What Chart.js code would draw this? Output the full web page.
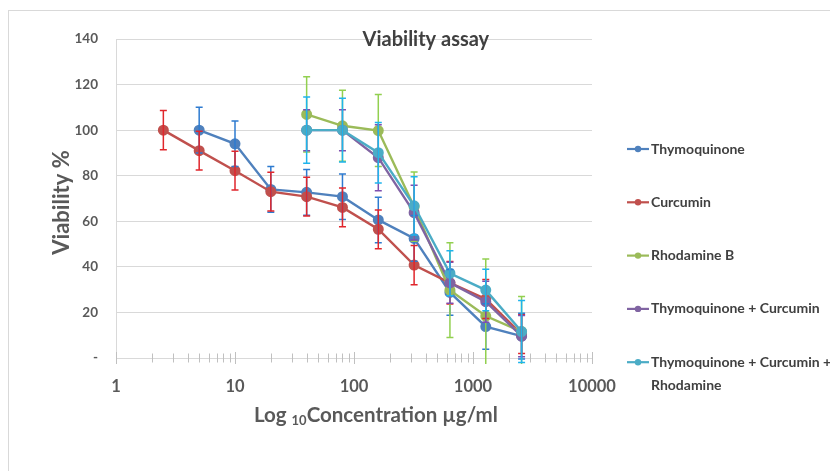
<!DOCTYPE html>
<html>
<head>
<meta charset="utf-8">
<script src="https://cdn.jsdelivr.net/npm/chart.js@4/dist/chart.umd.min.js"></script>
<style>
  html, body { margin: 0; padding: 0; background: #ffffff; }
  #wrap { width: 830px; height: 471px; position: relative; }
</style>
</head>
<body>
<div id="wrap"><canvas id="c" width="830" height="471"></canvas></div>
<script>
// ---------- data ----------
const concentrations = [2.5, 5, 10, 20, 40, 80, 160, 320, 640, 1280, 2560];

const seriesNames = [
  "Thymoquinone",
  "Curcumin",
  "Rhodamine B",
  "Thymoquinone + Curcumin",
  "Thymoquinone + Curcumin + Rhodamine"
];

const thymoquinone      = [null, 100, 94, 74, 72.7, 70.8, 60.6, 52.5, 28.8, 13.8, 9.6];
const thymoquinoneErr   = [null, 10, 10, 10, 10, 10, 10, 10, 10, 10, 10];

const curcumin          = [100, 91, 82.2, 73, 70.8, 66.1, 56.5, 40.8, 33, 25.9, 10.5];
const curcuminErr       = [8.6, 8.5, 8.5, 8.5, 8.5, 8.5, 8.5, 8.6, 9.3, 8.6, 8.5];

const rhodamineB        = [null, null, null, null, 106.9, 101.9, 99.8, 66.4, 29.8, 18.4, 11.6];
const rhodamineBErr     = [null, null, null, null, 16.5, 15.6, 15.8, 15.2, 20.8, 25, 15.4];

const tqCurcumin        = [null, null, null, null, 100, 100, 87.9, 63.8, 33, 24.7, 9.6];
const tqCurcuminErr     = [null, null, null, null, 9, 9, 14.5, 12, 9, 9, 9];

const tqCurRhodamine    = [null, null, null, null, 100, 100, 90.1, 66.8, 37.2, 29.8, 11.6];
const tqCurRhodamineErr = [null, null, null, null, 14.5, 14, 13.3, 12.8, 9.9, 9.1, 13.6];

const yTickValues  = [0, 20, 40, 60, 80, 100, 120, 140];
const majorXTicks  = [1, 10, 100, 1000, 10000];
const minorMultipliers = [2, 3, 4, 5, 6, 7, 8, 9];

const titleText  = "Viability assay";
const yTitleText = "Viability %";
const xTitleParts = ["Log ", "10", "Concentration µg/ml"];

// ---------- styling ----------
const lineColors  = ["#4F81BD", "#C0504D", "#9BBB59", "#8064A2", "#4BACC6"];
const errColors   = ["#2E7BD0", "#E0262C", "#92D050", "#7E4FB0", "#1FB4EC"];
const FONT = "Lato, 'Open Sans', sans-serif";

const values = [thymoquinone, curcumin, rhodamineB, tqCurcumin, tqCurRhodamine];
const errors = [thymoquinoneErr, curcuminErr, rhodamineBErr, tqCurcuminErr, tqCurRhodamineErr];

function toPoints(arr) {
  const pts = [];
  arr.forEach((v, i) => { if (v !== null) pts.push({ x: concentrations[i], y: v }); });
  return pts;
}
function toErr(arr, errArr) {
  const e = [];
  arr.forEach((v, i) => { if (v !== null) e.push(errArr[i]); });
  return e;
}

const datasets = values.map((arr, k) => ({
  label: seriesNames[k],
  data: toPoints(arr),
  errors: toErr(arr, errors[k]),
  errColor: errColors[k],
  borderColor: lineColors[k],
  backgroundColor: lineColors[k],
  pointBackgroundColor: lineColors[k],
  pointBorderColor: lineColors[k],
  borderWidth: 2.4,
  pointRadius: 4.3,
  pointHoverRadius: 4.3,
  tension: 0,
  order: 5 - k
}));

// ---------- plugins ----------
const framePlugin = {
  id: 'frame',
  beforeDraw(chart) {
    const ctx = chart.ctx;
    ctx.save();
    ctx.fillStyle = '#ffffff';
    ctx.fillRect(0, 0, chart.width, chart.height);
    ctx.strokeStyle = '#d9d9d9';
    ctx.lineWidth = 1;
    ctx.strokeRect(8.5, 10.5, chart.width + 10, chart.height + 10);
    ctx.restore();
  }
};

const xTicksPlugin = {
  id: 'xTickMarks',
  afterDraw(chart) {
    const ctx = chart.ctx;
    const xs = chart.scales.x;
    const y0 = chart.scales.y.getPixelForValue(0);
    ctx.save();
    ctx.strokeStyle = '#c0c0c0';
    ctx.lineWidth = 1;
    xs.ticks.forEach(t => {
      const px = Math.round(xs.getPixelForValue(t.value)) + 0.5;
      const h = t.major ? 6 : 4.5;
      ctx.beginPath();
      ctx.moveTo(px, y0 - h);
      ctx.lineTo(px, y0 + h);
      ctx.stroke();
    });
    ctx.restore();
  }
};

const errorBarPlugin = {
  id: 'errorBars',
  afterDatasetsDraw(chart) {
    const ctx = chart.ctx;
    const ys = chart.scales.y;
    const area = chart.chartArea;
    ctx.save();
    ctx.beginPath();
    ctx.rect(area.left, area.top - 30, area.right - area.left, area.bottom - area.top + 36);
    ctx.clip();
    chart.data.datasets.forEach((ds, di) => {
      const meta = chart.getDatasetMeta(di);
      ctx.strokeStyle = ds.errColor;
      ctx.lineWidth = 1.5;
      meta.data.forEach((pt, j) => {
        const e = ds.errors[j];
        if (e === null || e === undefined) return;
        const v = ds.data[j].y;
        const x = pt.x;
        const yt = ys.getPixelForValue(v + e);
        const yb = ys.getPixelForValue(v - e);
        ctx.beginPath();
        ctx.moveTo(x, yt); ctx.lineTo(x, yb);
        ctx.moveTo(x - 3.5, yt); ctx.lineTo(x + 3.5, yt);
        ctx.moveTo(x - 3.5, yb); ctx.lineTo(x + 3.5, yb);
        ctx.stroke();
      });
    });
    ctx.restore();
  }
};

const textPlugin = {
  id: 'texts',
  afterDraw(chart) {
    const ctx = chart.ctx;
    const a = chart.chartArea;
    ctx.save();
    // Chart title
    ctx.fillStyle = '#404040';
    ctx.font = "bold 20px " + FONT;
    ctx.textAlign = 'center';
    ctx.textBaseline = 'middle';
    ctx.fillText(titleText, a.left + 0.651 * (a.right - a.left), a.top + 1);

    // Y axis title
    ctx.save();
    ctx.translate(62, (a.top + a.bottom) / 2 + 4);
    ctx.rotate(-Math.PI / 2);
    ctx.font = "bold 22px " + FONT;
    ctx.fillStyle = '#595959';
    ctx.textAlign = 'center';
    ctx.textBaseline = 'middle';
    ctx.fillText(yTitleText, 0, 0);
    ctx.restore();

    // X axis title with subscript
    const bigFont = "bold 20.5px " + FONT;
    const subFont = "bold 13px " + FONT;
    ctx.font = bigFont;
    const w0 = ctx.measureText(xTitleParts[0]).width;
    const w2 = ctx.measureText(xTitleParts[2]).width;
    ctx.font = subFont;
    const w1 = ctx.measureText(xTitleParts[1]).width;
    const total = w0 + w1 + w2;
    const cx = a.left + 0.546 * (a.right - a.left);
    const cy = a.bottom + 57;
    let x = cx - total / 2;
    ctx.textAlign = 'left';
    ctx.textBaseline = 'middle';
    ctx.fillStyle = '#595959';
    ctx.font = bigFont;
    ctx.fillText(xTitleParts[0], x, cy); x += w0;
    ctx.font = subFont;
    ctx.fillText(xTitleParts[1], x, cy + 6); x += w1;
    ctx.font = bigFont;
    ctx.fillText(xTitleParts[2], x, cy);
    ctx.restore();
  }
};

function wrapText(ctx, text, maxW) {
  const words = text.split(' ');
  const lines = [];
  let cur = '';
  words.forEach(w => {
    const test = cur ? cur + ' ' + w : w;
    if (ctx.measureText(test).width > maxW && cur) { lines.push(cur); cur = w; }
    else cur = test;
  });
  if (cur) lines.push(cur);
  return lines;
}

const legendPlugin = {
  id: 'customLegend',
  afterDraw(chart) {
    const ctx = chart.ctx;
    const a = chart.chartArea;
    const x0 = a.right + 35;
    const textX = x0 + 24;
    let y = a.top + 110;
    ctx.save();
    ctx.font = "bold 14px " + FONT;
    ctx.textBaseline = 'middle';
    ctx.textAlign = 'left';
    chart.data.datasets.forEach(ds => {
      ctx.strokeStyle = ds.borderColor;
      ctx.lineWidth = 2.2;
      ctx.beginPath();
      ctx.moveTo(x0, y); ctx.lineTo(x0 + 22, y);
      ctx.stroke();
      ctx.fillStyle = ds.borderColor;
      ctx.beginPath();
      ctx.arc(x0 + 11, y, 3.2, 0, Math.PI * 2);
      ctx.fill();
      ctx.fillStyle = '#404040';
      const lines = wrapText(ctx, ds.label, 190);
      lines.forEach((ln, i) => ctx.fillText(ln, textX, y + i * 23.5));
      y += 53.3;
    });
    ctx.restore();
  }
};

// ---------- chart ----------
const xTickList = [];
majorXTicks.forEach((d, i) => {
  xTickList.push({ value: d, major: true });
  if (i < majorXTicks.length - 1) minorMultipliers.forEach(m => xTickList.push({ value: d * m, major: false }));
});

new Chart(document.getElementById('c'), {
  type: 'line',
  data: { datasets },
  options: {
    responsive: false,
    animation: false,
    events: [],
    layout: { padding: { left: 0, top: 39, right: 238, bottom: 73 } },
    plugins: {
      legend: { display: false },
      title: { display: false },
      tooltip: { enabled: false }
    },
    scales: {
      x: {
        type: 'logarithmic',
        min: 1,
        max: 10000,
        afterBuildTicks(scale) { scale.ticks = xTickList.map(t => ({ value: t.value, major: t.major })); },
        afterFit(scale) { scale.height = 40; },
        grid: { display: false, drawTicks: false },
        border: { display: false },
        ticks: {
          autoSkip: false,
          maxRotation: 0,
          padding: 19,
          color: '#595959',
          font: { family: FONT, size: 16.5, weight: 'bold' },
          callback(v) { return majorXTicks.includes(v) ? String(v) : ''; }
        }
      },
      y: {
        min: 0,
        max: 140,
        afterBuildTicks(scale) { scale.ticks = yTickValues.map(v => ({ value: v })); },
        afterFit(scale) { scale.width = 116; },
        grid: { color: '#d9d9d9', drawTicks: false, lineWidth: 1 },
        border: { display: true, color: '#d9d9d9' },
        ticks: {
          padding: 18,
          color: '#595959',
          font: { family: FONT, size: 13.5, weight: 'bold' },
          callback(v) { return v === 0 ? '-' : String(v); }
        }
      }
    }
  },
  plugins: [framePlugin, errorBarPlugin, xTicksPlugin, textPlugin, legendPlugin]
});
</script>
</body>
</html>
